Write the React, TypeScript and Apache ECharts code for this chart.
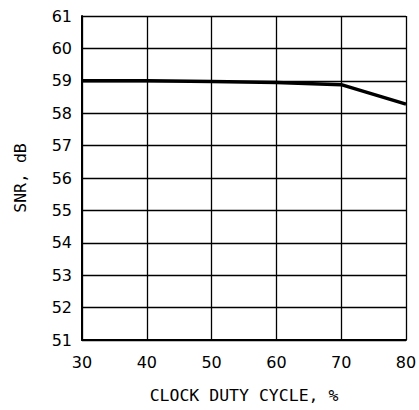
import React, { useEffect, useRef } from "react";
import * as echarts from "echarts";

const dutyCycle = [30, 40, 50, 60, 70, 80];
const snr = [59.0, 59.0, 58.98, 58.95, 58.88, 58.28];
const xTicks = { min: 30, max: 80, interval: 10 };
const yTicks = { min: 51, max: 61, interval: 1 };

export default function App() {
  const ref = useRef<HTMLDivElement>(null);
  useEffect(() => {
    if (!ref.current) return;
    const chart = echarts.init(ref.current, null, { renderer: "svg" });
    const tickFont = "DejaVu Sans";
    const nameFont = "DejaVu Sans Mono";
    chart.setOption({
      animation: false,
      backgroundColor: "#ffffff",
      grid: { left: 82, right: 13, top: 16, bottom: 70, outerBoundsMode: "none", containLabel: false },
      xAxis: {
        type: "value",
        min: xTicks.min,
        max: xTicks.max,
        interval: xTicks.interval,
        name: "CLOCK DUTY CYCLE, %",
        nameLocation: "middle",
        nameGap: 47,
        nameTextStyle: { color: "#000", fontFamily: nameFont, fontSize: 16.5 },
        axisLine: { show: true, lineStyle: { color: "#000", width: 2 } },
        axisTick: { show: false },
        axisLabel: { color: "#000", fontFamily: tickFont, fontSize: 16, margin: 14 },
        splitLine: { show: true, lineStyle: { color: "#000", width: 1.3 } },
      },
      yAxis: {
        type: "value",
        min: yTicks.min,
        max: yTicks.max,
        interval: yTicks.interval,
        name: "SNR, dB",
        nameLocation: "middle",
        nameGap: 53,
        nameRotate: 90,
        nameTextStyle: { color: "#000", fontFamily: nameFont, fontSize: 16.5 },
        axisLine: { show: true, lineStyle: { color: "#000", width: 2 } },
        axisTick: { show: false },
        axisLabel: { color: "#000", fontFamily: tickFont, fontSize: 16, margin: 10 },
        splitLine: { show: true, lineStyle: { color: "#000", width: 1.3 } },
      },
      series: [
        {
          type: "line",
          data: dutyCycle.map((x, i) => [x, snr[i]]),
          symbol: "none",
          lineStyle: { color: "#000", width: 3.5 },
        },
      ],
    });
    return () => chart.dispose();
  }, []);
  return (
    <div
      ref={ref}
      style={{ position: "fixed", left: 0, top: 0, width: 419, height: 410 }}
    />
  );
}
